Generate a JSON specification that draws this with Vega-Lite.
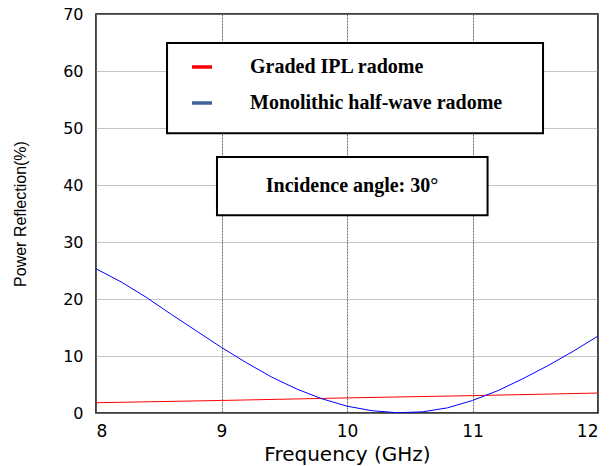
{
  "$schema": "https://vega.github.io/schema/vega-lite/v6.json",
  "width": 502,
  "height": 399,
  "autosize": "none",
  "padding": {"left": 96, "top": 14, "right": 13, "bottom": 53},
  "config": {
    "view": {"stroke": "black", "strokeWidth": 1.5},
    "font": "Liberation Sans"
  },
  "datasets": {
    "curves": [
      {"f": 8.0, "r": 1.8, "series": "Graded IPL radome"},
      {"f": 9.0, "r": 2.2, "series": "Graded IPL radome"},
      {"f": 10.0, "r": 2.65, "series": "Graded IPL radome"},
      {"f": 11.0, "r": 3.05, "series": "Graded IPL radome"},
      {"f": 12.0, "r": 3.5, "series": "Graded IPL radome"},
      {"f": 8.0, "r": 25.3, "series": "Monolithic half-wave radome"},
      {"f": 8.2, "r": 23.0, "series": "Monolithic half-wave radome"},
      {"f": 8.4, "r": 20.3, "series": "Monolithic half-wave radome"},
      {"f": 8.6, "r": 17.3, "series": "Monolithic half-wave radome"},
      {"f": 8.8, "r": 14.4, "series": "Monolithic half-wave radome"},
      {"f": 9.0, "r": 11.5, "series": "Monolithic half-wave radome"},
      {"f": 9.2, "r": 8.8, "series": "Monolithic half-wave radome"},
      {"f": 9.4, "r": 6.3, "series": "Monolithic half-wave radome"},
      {"f": 9.6, "r": 4.2, "series": "Monolithic half-wave radome"},
      {"f": 9.8, "r": 2.5, "series": "Monolithic half-wave radome"},
      {"f": 10.0, "r": 1.2, "series": "Monolithic half-wave radome"},
      {"f": 10.2, "r": 0.4, "series": "Monolithic half-wave radome"},
      {"f": 10.4, "r": 0.05, "series": "Monolithic half-wave radome"},
      {"f": 10.6, "r": 0.2, "series": "Monolithic half-wave radome"},
      {"f": 10.8, "r": 0.9, "series": "Monolithic half-wave radome"},
      {"f": 11.0, "r": 2.2, "series": "Monolithic half-wave radome"},
      {"f": 11.2, "r": 3.9, "series": "Monolithic half-wave radome"},
      {"f": 11.4, "r": 6.0, "series": "Monolithic half-wave radome"},
      {"f": 11.6, "r": 8.3, "series": "Monolithic half-wave radome"},
      {"f": 11.8, "r": 10.8, "series": "Monolithic half-wave radome"},
      {"f": 12.0, "r": 13.5, "series": "Monolithic half-wave radome"}
    ],
    "boxes": [
      {"x1": 8.566, "x2": 11.562, "y1": 49.1, "y2": 64.9},
      {"x1": 8.964, "x2": 11.12, "y1": 34.7, "y2": 44.9}
    ],
    "notes": [
      {"x": 10.04, "y": 39.8, "label": "Incidence angle: 30°"}
    ]
  },
  "layer": [
    {
      "data": {"name": "curves"},
      "mark": {"type": "line", "strokeWidth": 1, "clip": true},
      "encoding": {
        "x": {
          "field": "f", "type": "quantitative",
          "scale": {"domain": [8, 12], "nice": false},
          "axis": {
            "title": "Frequency (GHz)", "titleFontSize": 20, "titleFont": "DejaVu Sans",
            "titleFontWeight": "normal", "titleColor": "black", "titlePadding": 5,
            "values": [8, 9, 10, 11, 12], "format": "d", "labelFont": "DejaVu Sans",
            "labelFontSize": 17, "labelColor": "black",
            "labelPadding": 10, "ticks": false, "domain": false,
            "grid": true, "gridColor": "#666", "gridDash": [2, 1], "gridWidth": 1
          }
        },
        "y": {
          "field": "r", "type": "quantitative",
          "scale": {"domain": [0, 70], "nice": false},
          "axis": {
            "title": "Power Reflection(%)", "titleFontSize": 16,
            "titleFontWeight": "normal", "titleColor": "black", "titlePadding": 34,
            "values": [0, 10, 20, 30, 40, 50, 60, 70], "labelFont": "DejaVu Sans",
            "labelFontSize": 16, "labelColor": "black",
            "labelPadding": 13, "ticks": false, "domain": false,
            "grid": true, "gridColor": "#888", "gridDash": [1, 1], "gridWidth": 1
          }
        },
        "stroke": {
          "field": "series", "type": "nominal",
          "scale": {"domain": ["Graded IPL radome", "Monolithic half-wave radome"], "range": ["#ff0000", "#0000ff"]},
          "legend": null
        }
      }
    },
    {
      "data": {"name": "curves"},
      "mark": {"type": "line", "strokeWidth": 0, "clip": true},
      "encoding": {
        "x": {"field": "f", "type": "quantitative"},
        "y": {"field": "r", "type": "quantitative"},
        "color": {
          "field": "series", "type": "nominal",
          "scale": {"range": ["#ff0000", "#3d6396"]},
          "legend": {
            "title": null, "orient": "none", "legendX": 94, "legendY": 41,
            "symbolType": "stroke", "symbolSize": 400, "symbolStrokeWidth": 3.5,
            "symbolOpacity": 1,
            "labelFont": "Liberation Serif", "labelFontWeight": "bold", "labelFontSize": 20,
            "labelColor": "black", "labelOffset": 36, "rowPadding": 14, "padding": 0,
            "labelLimit": 400
          }
        }
      }
    },
    {
      "data": {"name": "boxes"},
      "mark": {"type": "rect", "fill": "white", "stroke": "black", "strokeWidth": 2},
      "encoding": {
        "x": {"field": "x1", "type": "quantitative"},
        "x2": {"field": "x2"},
        "y": {"field": "y1", "type": "quantitative"},
        "y2": {"field": "y2"}
      }
    },
    {
      "data": {"name": "notes"},
      "mark": {"type": "text", "font": "Liberation Serif", "fontWeight": "bold", "fontSize": 20, "color": "black"},
      "encoding": {
        "x": {"field": "x", "type": "quantitative"},
        "y": {"field": "y", "type": "quantitative"},
        "text": {"field": "label"}
      }
    }
  ]
}
